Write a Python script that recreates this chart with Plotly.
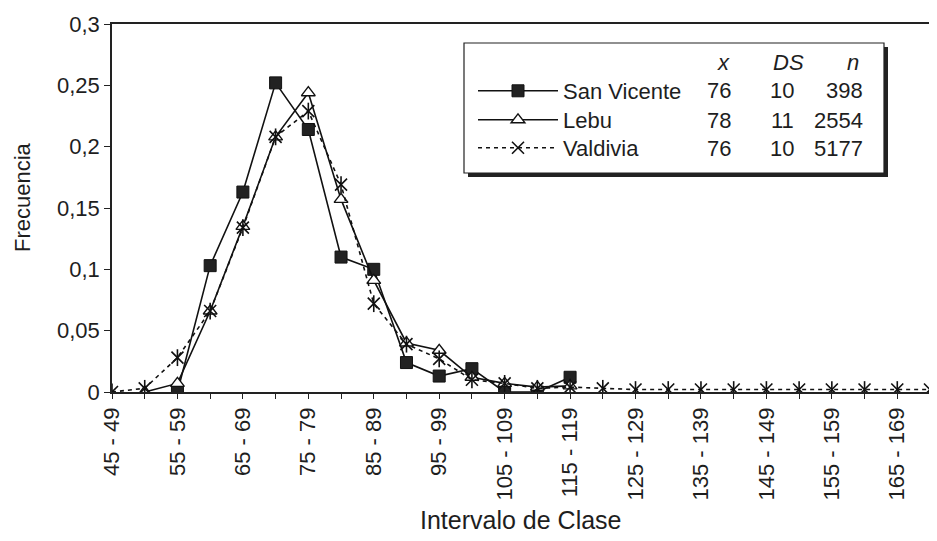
import plotly.graph_objects as go

categories = [f"{a} - {a + 4}" for a in range(45, 175, 5)]
tick_labels = [c if i % 2 == 0 else "" for i, c in enumerate(categories)]

san_vicente = [None, None, 0.0, 0.103, 0.163, 0.252, 0.214, 0.110, 0.100, 0.024,
               0.013, 0.019, 0.0, 0.0, 0.012]
lebu = [None, 0.0, 0.007, 0.066, 0.135, 0.208, 0.244, 0.157, 0.091, 0.040,
        0.034, 0.012, 0.007, 0.004, 0.005]
valdivia = [0.0, 0.003, 0.028, 0.066, 0.134, 0.208, 0.229, 0.169, 0.072, 0.039,
            0.027, 0.010, 0.007, 0.003, 0.004, 0.003, 0.002, 0.002, 0.002, 0.002,
            0.002, 0.002, 0.002, 0.002, 0.002, 0.002]

y_ticks = [0, 0.05, 0.1, 0.15, 0.2, 0.25, 0.3]
y_tick_text = ["0", "0,05", "0,1", "0,15", "0,2", "0,25", "0,3"]

table_header = ["x", "DS", "n"]
table_mean = ["76", "78", "76"]
table_sd = ["10", "11", "10"]
table_n = ["398", "2554", "5177"]

# page body has an 8px default margin; work in window pixels and compensate
OFF = 8
W, H = 937 - OFF, 541 - OFF
L, R, T, B = 112 - OFF, 930 - OFF, 24 - OFF, 392 - OFF


def px(xp):
    return (xp - OFF - L) / (R - L)


def py(yp):
    return (B - (yp - OFF)) / (B - T)


FONT = "Liberation Sans, Arial, sans-serif"
TXT = "#1e1e1e"
FS = 22

fig = go.Figure()
fig.add_trace(go.Scatter(
    x=categories[:len(san_vicente)], y=san_vicente, name="San Vicente", legend="legend",
    mode="lines+markers", line=dict(color="#111", width=1.6),
    marker=dict(symbol="square", size=12, color="#222", line=dict(color="#111", width=1))))
fig.add_trace(go.Scatter(
    x=categories[:len(lebu)], y=lebu, name="Lebu", legend="legend2",
    mode="lines+markers", line=dict(color="#111", width=1.6),
    marker=dict(symbol="triangle-up", size=12, color="white", line=dict(color="#111", width=1.4))))
fig.add_trace(go.Scatter(
    x=categories[:len(valdivia)], y=valdivia, name="Valdivia", legend="legend3",
    mode="lines+markers", line=dict(color="#111", width=1.6, dash="4px,4px"),
    marker=dict(symbol="x-thin-open", size=12, color="#111", line=dict(color="#111", width=1.6))))
fig.add_trace(go.Scatter(
    x=categories[:len(valdivia)], y=valdivia, showlegend=False, hoverinfo="skip",
    mode="markers",
    marker=dict(symbol="line-ns-open", size=12, color="#111", line=dict(color="#111", width=1.6))))

shapes = [
    dict(type="rect", xref="paper", yref="paper", x0=px(468), x1=px(888), y0=py(177), y1=py(47),
         fillcolor="#222", line=dict(width=0), layer="above"),
    dict(type="rect", xref="paper", yref="paper", x0=px(464), x1=px(884), y0=py(173), y1=py(43),
         fillcolor="white", line=dict(color="#222", width=1.2), layer="above"),
]

annotations = []
row_y = [91, 120, 148]
hx = [723, 788, 861]
for t, xx, anc in zip(table_header, hx, ["center", "center", "right"]):
    annotations.append(dict(x=px(xx), y=py(62), xref="paper", yref="paper", text=f"<i>{t}</i>",
                            showarrow=False, xanchor=anc, yanchor="middle",
                            font=dict(family=FONT, size=FS, color=TXT)))
for i, yy in enumerate(row_y):
    annotations.append(dict(x=px(719), y=py(yy), xref="paper", yref="paper", text=table_mean[i],
                            showarrow=False, xanchor="center", yanchor="middle",
                            font=dict(family=FONT, size=FS, color=TXT)))
    annotations.append(dict(x=px(782), y=py(yy), xref="paper", yref="paper", text=table_sd[i],
                            showarrow=False, xanchor="center", yanchor="middle",
                            font=dict(family=FONT, size=FS, color=TXT)))
    annotations.append(dict(x=px(865), y=py(yy), xref="paper", yref="paper", text=table_n[i],
                            showarrow=False, xanchor="right", yanchor="middle",
                            font=dict(family=FONT, size=FS, color=TXT)))
# axis titles
annotations.append(dict(x=px(521), y=py(520), xref="paper", yref="paper", text="Intervalo de Clase",
                        showarrow=False, xanchor="center", yanchor="middle",
                        font=dict(family=FONT, size=25, color=TXT)))
annotations.append(dict(x=px(22), y=py(197), xref="paper", yref="paper", text="Frecuencia",
                        showarrow=False, xanchor="center", yanchor="middle", textangle=-90,
                        font=dict(family=FONT, size=22, color=TXT)))


def legend_at(row):
    return dict(x=px(473), y=py(row), xanchor="left", yanchor="middle",
                bgcolor="rgba(0,0,0,0)", borderwidth=0, itemwidth=80,
                font=dict(family=FONT, size=FS, color=TXT))


fig.update_layout(
    width=W, height=H,
    margin=dict(l=L, r=W - R, t=T, b=H - B, autoexpand=False),
    paper_bgcolor="white", plot_bgcolor="white",
    font=dict(family=FONT, size=FS, color=TXT),
    shapes=shapes, annotations=annotations,
    showlegend=True,
    legend=legend_at(row_y[0]),
    legend2=legend_at(row_y[1]),
    legend3=legend_at(row_y[2]),
    xaxis=dict(type="category", categoryorder="array", categoryarray=categories,
               tickmode="array", tickvals=categories, ticktext=tick_labels,
               range=[0, len(categories) - 1], tickangle=-90, automargin=False,
               showline=True, linecolor="#222", linewidth=1.5, mirror=True,
               ticks="outside", ticklen=5, tickcolor="#222", showgrid=False, zeroline=False,
               tickfont=dict(family=FONT, size=FS, color=TXT)),
    yaxis=dict(range=[0, 0.3], tickmode="array", tickvals=y_ticks, ticktext=y_tick_text,
               automargin=False,
               showline=True, linecolor="#222", linewidth=1.5, mirror=True,
               ticks="outside", ticklen=6, tickcolor="#222", showgrid=False, zeroline=False,
               tickfont=dict(family=FONT, size=FS, color=TXT)),
)

fig.write_html("out.html")
